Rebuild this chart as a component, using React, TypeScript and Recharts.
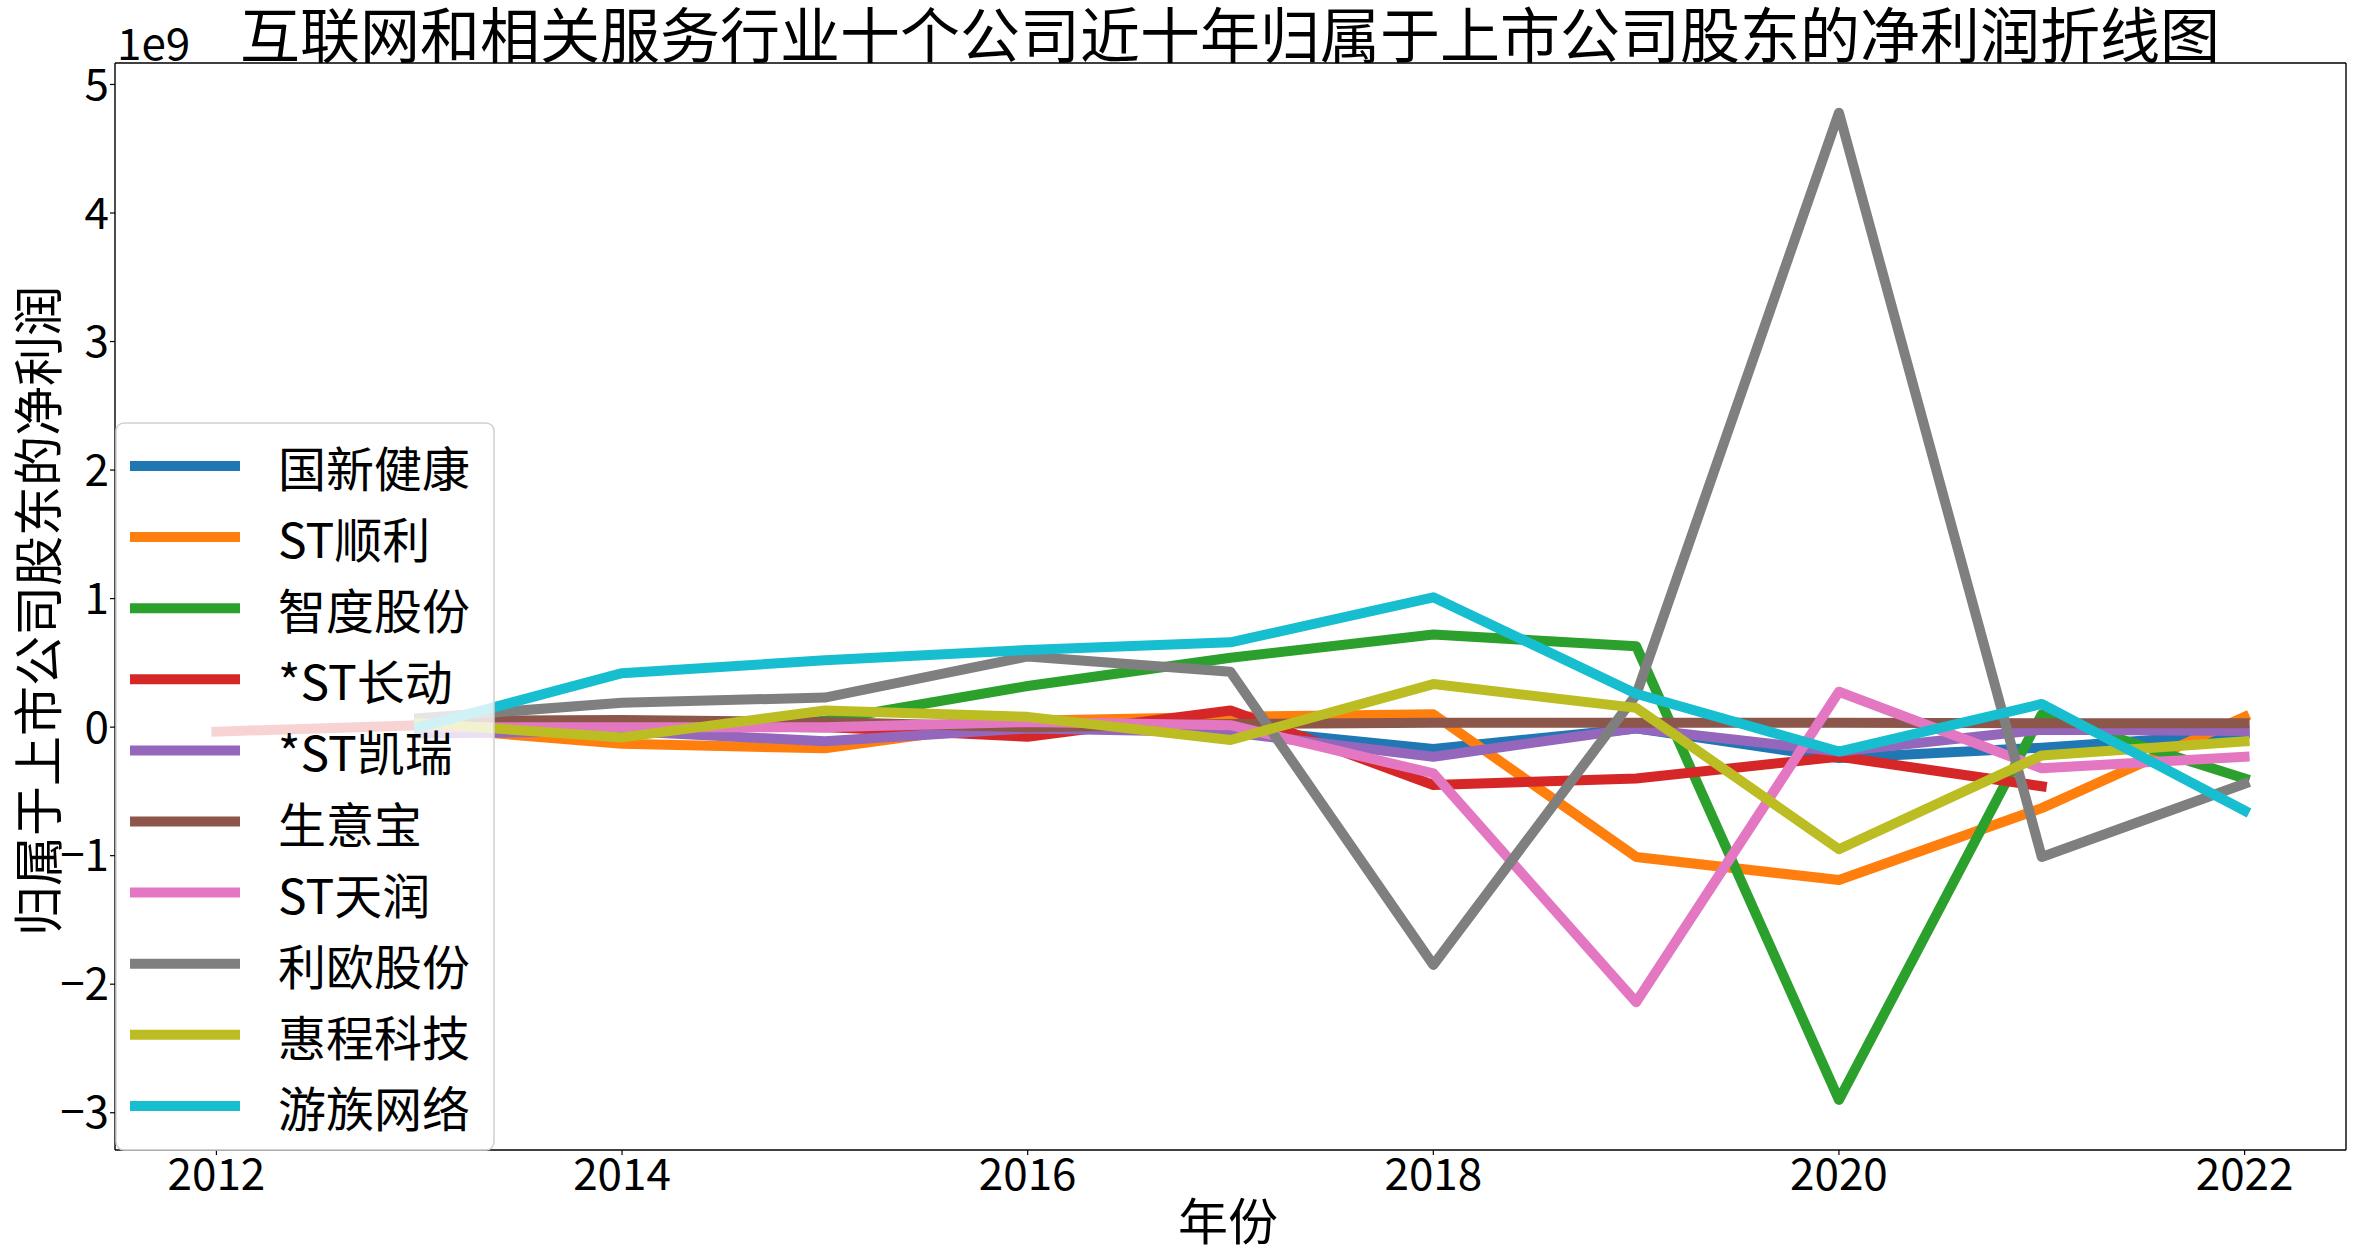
import { LineChart, Line, XAxis, YAxis, ReferenceLine } from "recharts"

const W = 2354
const H = 1255
const FONT = '"Noto Sans CJK SC", "Noto Sans", sans-serif'

// 年份
const years = [2012, 2013, 2014, 2015, 2016, 2017, 2018, 2019, 2020, 2021, 2022]

// 归属于上市公司股东的净利润 (单位 1e9 元), null = 无数据
const guoXinJianKang = [null, 0.0, 0.01, 0.0, 0.0, -0.01, -0.17, -0.01, -0.24, -0.16, -0.05]
const stShunLi = [null, 0.0, -0.13, -0.165, 0.05, 0.08, 0.1, -1.01, -1.19, -0.63, 0.08]
const zhiDuGuFen = [null, 0.02, -0.06, 0.05, 0.32, 0.54, 0.72, 0.63, -2.9, 0.1, -0.4]
const stChangDong = [-0.035, 0.015, 0.01, 0.0, -0.075, 0.13, -0.45, -0.4, -0.23, -0.46, null]
const stKaiRui = [null, -0.05, -0.03, -0.11, -0.01, -0.04, -0.23, -0.01, -0.19, -0.02, -0.03]
const shengYiBao = [null, 0.05, 0.055, 0.04, 0.0, 0.025, 0.035, 0.035, 0.035, 0.03, 0.03]
const stTianRun = [null, 0.0, 0.0, 0.0, 0.04, 0.015, -0.36, -2.14, 0.275, -0.32, -0.23]
const liOuGuFen = [null, 0.07, 0.19, 0.23, 0.55, 0.43, -1.85, 0.25, 4.78, -1.01, -0.44]
const huiChengKeJi = [null, 0.03, -0.08, 0.13, 0.08, -0.1, 0.335, 0.15, -0.95, -0.22, -0.11]
const youZuWangLuo = [null, 0.0, 0.42, 0.52, 0.6, 0.66, 1.01, 0.26, -0.19, 0.18, -0.65]

const xTicks = [2012, 2014, 2016, 2018, 2020, 2022]
const yTicks = [-3, -2, -1, 0, 1, 2, 3, 4, 5]

const series = [
  { name: "国新健康", color: "#1f77b4", values: guoXinJianKang },
  { name: "ST顺利", color: "#ff7f0e", values: stShunLi },
  { name: "智度股份", color: "#2ca02c", values: zhiDuGuFen },
  { name: "*ST长动", color: "#d62728", values: stChangDong },
  { name: "*ST凯瑞", color: "#9467bd", values: stKaiRui },
  { name: "生意宝", color: "#8c564b", values: shengYiBao },
  { name: "ST天润", color: "#e377c2", values: stTianRun },
  { name: "利欧股份", color: "#7f7f7f", values: liOuGuFen },
  { name: "惠程科技", color: "#bcbd22", values: huiChengKeJi },
  { name: "游族网络", color: "#17becf", values: youZuWangLuo },
]

const data = years.map((year, i) => {
  const row: Record<string, number | null> = { year }
  series.forEach((s, k) => {
    row["s" + k] = s.values[i]
  })
  return row
})

const xDomain = [2011.5, 2022.5]
const yDomain = [-3.29, 5.167]

const fmtY = (v: number) => (v < 0 ? "\u2212" + Math.abs(v) : String(v))

const tickStyle = { fontSize: 44, fill: "#000", fontFamily: FONT }

export default function App() {
  return (
    <div style={{ position: "absolute", left: 0, top: 0, width: W, height: H, background: "#fff" }}>
      <LineChart width={W} height={H} data={data} margin={{ top: 63, right: 8, bottom: 45, left: 55 }}>
        <XAxis
          dataKey="year"
          type="number"
          domain={xDomain}
          ticks={xTicks}
          allowDataOverflow
          height={60}
          tick={tickStyle}
          tickSize={5}
          tickMargin={4}
          stroke="#000"
          axisLine={{ stroke: "#000", strokeWidth: 1.4 }}
          tickLine={{ stroke: "#000", strokeWidth: 1.2 }}
        />
        <YAxis
          type="number"
          domain={yDomain}
          ticks={yTicks}
          allowDataOverflow
          width={60}
          tick={tickStyle}
          tickFormatter={fmtY}
          tickSize={5}
          tickMargin={1}
          stroke="#000"
          axisLine={{ stroke: "#000", strokeWidth: 1.4 }}
          tickLine={{ stroke: "#000", strokeWidth: 1.2 }}
        />
        {/* top and right spines */}
        <ReferenceLine y={yDomain[1]} stroke="#000" strokeWidth={1.4} />
        <ReferenceLine x={xDomain[1]} stroke="#000" strokeWidth={1.4} />
        {series.map((s, k) => (
          <Line
            key={s.name}
            type="linear"
            dataKey={"s" + k}
            name={s.name}
            stroke={s.color}
            strokeWidth={10}
            strokeLinecap="square"
            strokeLinejoin="round"
            dot={false}
            activeDot={false}
            isAnimationActive={false}
          />
        ))}
      </LineChart>

      <svg
        width={W}
        height={H}
        style={{ position: "absolute", left: 0, top: 0, pointerEvents: "none" }}
        fontFamily={FONT}
      >
        <text x={1230} y={58} fontSize={60} textAnchor="middle" fill="#000">
          互联网和相关服务行业十个公司近十年归属于上市公司股东的净利润折线图
        </text>
        <text x={117} y={60} fontSize={44} fill="#000">
          1e9
        </text>
        <text
          x={35}
          y={611}
          fontSize={50}
          textAnchor="middle"
          dominantBaseline="central"
          transform="rotate(-90 35 611)"
          fill="#000"
        >
          归属于上市公司股东的净利润
        </text>
        <text x={1228} y={1240} fontSize={50} textAnchor="middle" fill="#000">
          年份
        </text>

        <rect x={116} y={423} width={378} height={727} rx={8} fill="#fff" fillOpacity={0.8} stroke="#d0d0d0" strokeWidth={1.5} />
        {series.map((s, k) => {
          const cy = 466 + k * 71.1
          return (
            <g key={s.name}>
              <line x1={130} x2={240} y1={cy} y2={cy} stroke={s.color} strokeWidth={10} />
              <text x={278} y={cy} fontSize={48} dominantBaseline="central" fill="#000">
                {s.name}
              </text>
            </g>
          )
        })}
      </svg>
    </div>
  )
}
